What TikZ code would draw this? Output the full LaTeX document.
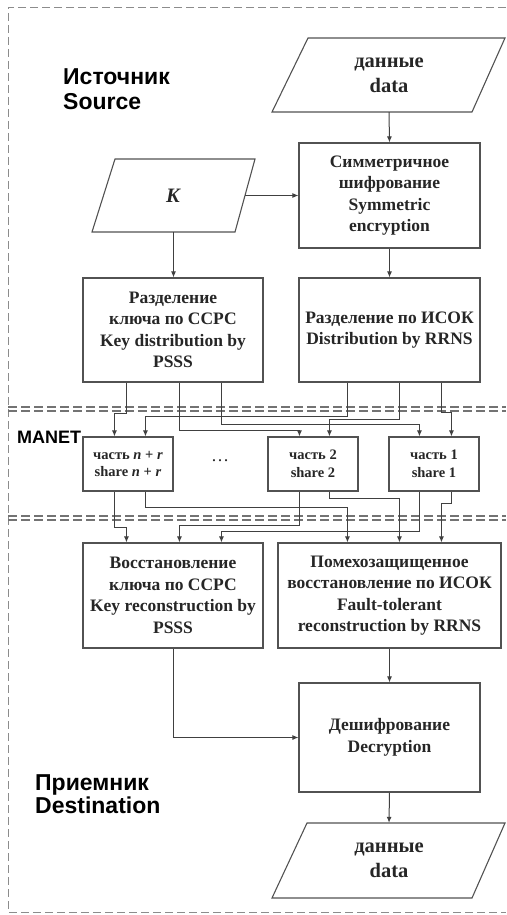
\documentclass[tikz,border=0pt]{standalone}
\usepackage{fontspec}
\setmainfont{Liberation Serif}
\newfontfamily\headfont{Liberation Sans}
\usetikzlibrary{arrows.meta}
\newcommand{\bxfont}{\fontsize{17.5}{21.5}\selectfont\bfseries}
\newcommand{\shfont}{\fontsize{14.5}{17.5}\selectfont\bfseries}
\newcommand{\dtfont}{\fontsize{20.5}{25}\selectfont\bfseries}
\newcommand{\hdfont}{\headfont\fontsize{23}{25}\selectfont\bfseries}
\begin{document}
\begin{tikzpicture}[x=1pt,y=-1pt,
  box/.style={draw=black!68, line width=1.1pt, align=center, inner sep=0pt, font=\bxfont, text=black!85},
  shbox/.style={box, font=\shfont, minimum width=90pt, minimum height=54pt},
  para/.style={draw=black!68, line width=1.1pt},
  ghost/.style={draw=none, align=center, inner sep=0pt, text=black!85},
  conn/.style={draw=black!75, line width=1pt, -{Latex[length=6pt,width=5pt]}},
  frame/.style={draw=black!45, line width=0.8pt, dash pattern=on 8pt off 4pt},
  split/.style={draw=black!55, line width=1.1pt, dash pattern=on 9pt off 4pt},
  head/.style={anchor=base west, inner sep=0pt, font=\hdfont}
]
\useasboundingbox (0,0) rectangle (506,915);
% frame
\draw[frame] (506,7) -- (8,7) -- (8,912) -- (506,912);
\draw[split] (8,407) -- (506,407);
\draw[split] (8,411) -- (506,411);
\draw[split] (8,516) -- (506,516);
\draw[split] (8,520) -- (506,520);

% headings
\node[head] (src1) at (63,85) {Источник};
\node[head] (src2) at (63,110) {Source};
\node[head] (dst1) at (35,790) {Приемник};
\node[head] (dst2) at (35,813) {Destination};
\node[head, font=\headfont\fontsize{18}{20}\selectfont\bfseries] (manet) at (17,443) {MANET};

% parallelograms
\draw[para] (308,38) -- (505,38) -- (472,112) -- (272,112) -- cycle;
\node[ghost, font=\dtfont, minimum width=200pt, minimum height=74pt] (data1) at (389,75) {данные\\data};
\draw[para] (115,159) -- (255,159) -- (235,232) -- (92,232) -- cycle;
\node[ghost, font=\dtfont, minimum width=143pt, minimum height=73pt] (key) at (173.5,195.5) {\textit{K}};
\draw[para] (307,823) -- (505,823) -- (472,898) -- (272,898) -- cycle;
\node[ghost, font=\dtfont, minimum width=200pt, minimum height=75pt] (data2) at (389,860.5) {данные\\data};

% boxes
\node[box, minimum width=181pt, minimum height=105pt] (symm) at (389.5,195.5) {Симметричное\\шифрование\\Symmetric\\encryption};
\node[box, minimum width=180pt, minimum height=104pt] (kdist) at (173,330) {Разделение\\ключа по ССРС\\Key distribution by\\PSSS};
\node[box, minimum width=181pt, minimum height=104pt] (rdist) at (389.5,330) {Разделение по ИСОК\\Distribution by RRNS};
\node[shbox] (snr) at (128,464) {часть \textit{n}~+~\textit{r}\\share \textit{n}~+~\textit{r}};
\node[shbox] (s2) at (313,464) {часть 2\\share 2};
\node[shbox] (s1) at (434,464) {часть 1\\share 1};
\node[ghost, font=\fontsize{18}{20}\selectfont] (dots) at (220,461) {…};
\node[box, minimum width=180pt, minimum height=105pt] (krec) at (173,595.5) {Восстановление\\ключа по ССРС\\Key reconstruction by\\PSSS};
\node[box, minimum width=223pt, minimum height=105pt] (frec) at (389.5,595.5) {Помехозащищенное\\восстановление по ИСОК\\Fault-tolerant\\reconstruction by RRNS};
\node[box, minimum width=181pt, minimum height=109pt] (dec) at (389.5,737.5) {Дешифрование\\Decryption};

% simple connectors
\draw[conn] (data1.south) -- (symm.north);
\draw[conn] (key.east) -- (key.east -| symm.west);
\draw[conn] (key.south) -- (key.south |- kdist.north);
\draw[conn] (symm.south) -- (rdist.north);
\draw[conn] (frec.south) -- (dec.north);
\draw[conn] (krec.south) |- (dec.west);
\draw[conn] (dec.south) -- (data2.north);

% distribution to shares
\draw[conn] ([xshift=44]kdist.south west) -- ++(0,31) -| ([xshift=32]snr.north west);
\draw[conn] ([xshift=97]kdist.south west) -- ++(0,48) -| ([xshift=32]s2.north west);
\draw[conn] ([xshift=139]kdist.south west) -- ++(0,42) -| ([xshift=31]s1.north west);
\draw[conn] ([xshift=49]rdist.south west) -- ++(0,34) -| ([xshift=63]snr.north west);
\draw[conn] ([xshift=101]rdist.south west) -- ++(0,37) -| ([xshift=62]s2.north west);
\draw[conn] ([xshift=143]rdist.south west) -- ++(0,30) -| ([xshift=63]s1.north west);

% shares to reconstruction
\draw[conn] ([xshift=32]snr.south west) -- ++(0,36) -| ([xshift=44]krec.north west);
\draw[conn] ([xshift=63]snr.south west) -- ++(0,16) -| ([xshift=70]frec.north west);
\draw[conn] ([xshift=32]s2.south west) -- ++(0,34) -| ([xshift=97]krec.north west);
\draw[conn] ([xshift=62]s2.south west) -- ++(0,7) -| ([xshift=122]frec.north west);
\draw[conn] ([xshift=31]s1.south west) -- ++(0,40) -| ([xshift=139]krec.north west);
\draw[conn] ([xshift=63]s1.south west) -- ++(0,12) -| ([xshift=164]frec.north west);
\end{tikzpicture}
\end{document}
